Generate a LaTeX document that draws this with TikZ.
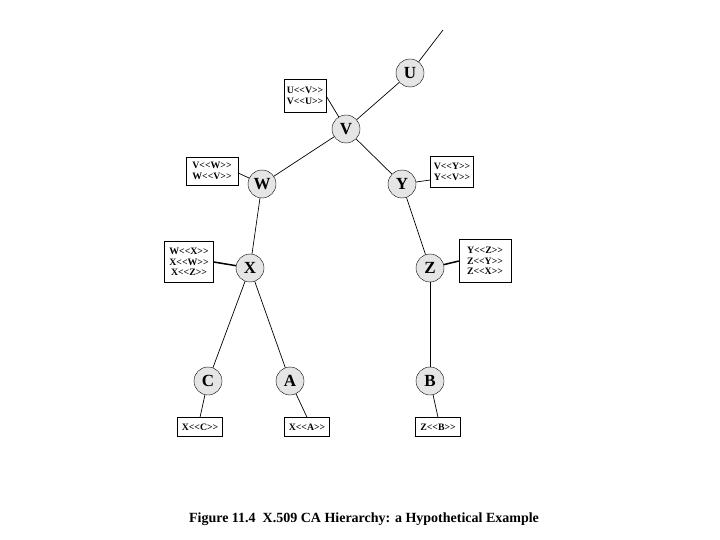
\documentclass[tikz,border=0pt]{standalone}
\usepackage{fontspec}
\setmainfont{Liberation Serif}
\newcommand\cLT{<\kern0pt<}
\newcommand\cGT{>\kern0pt>}
\begin{document}
\begin{tikzpicture}[x=1pt,y=-1pt,
  ca/.style={circle,draw,fill=black!10,minimum size=28pt,inner sep=0pt,font=\bfseries\fontsize{17}{17}\selectfont},
  cert/.style={draw,fill=white,inner sep=1pt,align=center,font=\bfseries\fontsize{9.8}{10.5}\selectfont},
  link/.style={line width=0.7pt}]
\useasboundingbox (0,0) rectangle (720,540);
\node[ca] (U) at (410,73) {U};
\node[ca] (V) at (346,129) {V};
\node[ca] (W) at (262,184) {W};
\node[ca] (Y) at (402,184) {Y};
\node[ca] (X) at (250,268) {X};
\node[ca] (Z) at (430,268) {Z};
\node[ca] (C) at (208,381) {C};
\node[ca] (A) at (290,381) {A};
\node[ca] (B) at (430,381) {B};
\coordinate (top) at (443,30);

\node[cert,minimum width=42pt,minimum height=33pt] (cU) at (305,96) {U\cLT V\cGT\\V\cLT U\cGT};
\node[cert,minimum width=52pt,minimum height=28pt] (cW) at (212,171) {V\cLT W\cGT\\W\cLT V\cGT};
\node[cert,minimum width=43pt,minimum height=31pt] (cY) at (452,172) {V\cLT Y\cGT\\Y\cLT V\cGT};
\node[cert,minimum width=49pt,minimum height=41pt] (cX) at (189,262) {W\cLT X\cGT\\X\cLT W\cGT\\X\cLT Z\cGT};
\node[cert,minimum width=52pt,minimum height=43pt] (cZ) at (485,261) {Y\cLT Z\cGT\\Z\cLT Y\cGT\\Z\cLT X\cGT};
\node[cert,minimum width=45pt,minimum height=19pt] (cC) at (200,427) {X\cLT C\cGT};
\node[cert,minimum width=45pt,minimum height=19pt] (cA) at (307,427) {X\cLT A\cGT};
\node[cert,minimum width=45pt,minimum height=19pt] (cB) at (438,427) {Z\cLT B\cGT};

\draw[link] (top) -- (U);
\draw[link] (U) -- (V);
\draw[link] (V) -- (W);
\draw[link] (V) -- (Y);
\draw[link] (W) -- (X);
\draw[link] (Y) -- (Z);
\draw[link] (X) -- (C);
\draw[link] (X) -- (A);
\draw[link] (Z) -- (B);
\draw[link] (cU.east) -- (V);
\draw[link] (cW.east) ++(0,2) -- (W);
\draw[link] (cY.west) ++(0,8) -- (Y);
\draw[line width=1.5pt] (cX.east) -- (X);
\draw[line width=1.5pt] (cZ.west) -- (Z);
\draw[link] (C) -- (cC.north);
\draw[link] (A) -- (cA.north);
\draw[link] (B) -- (cB.north);

\node[font=\bfseries\fontsize{14}{14}\selectfont] (cap) at (364,519) {Figure 11.4\enspace X.509 CA Hierarchy: a Hypothetical Example};
\end{tikzpicture}
\end{document}
